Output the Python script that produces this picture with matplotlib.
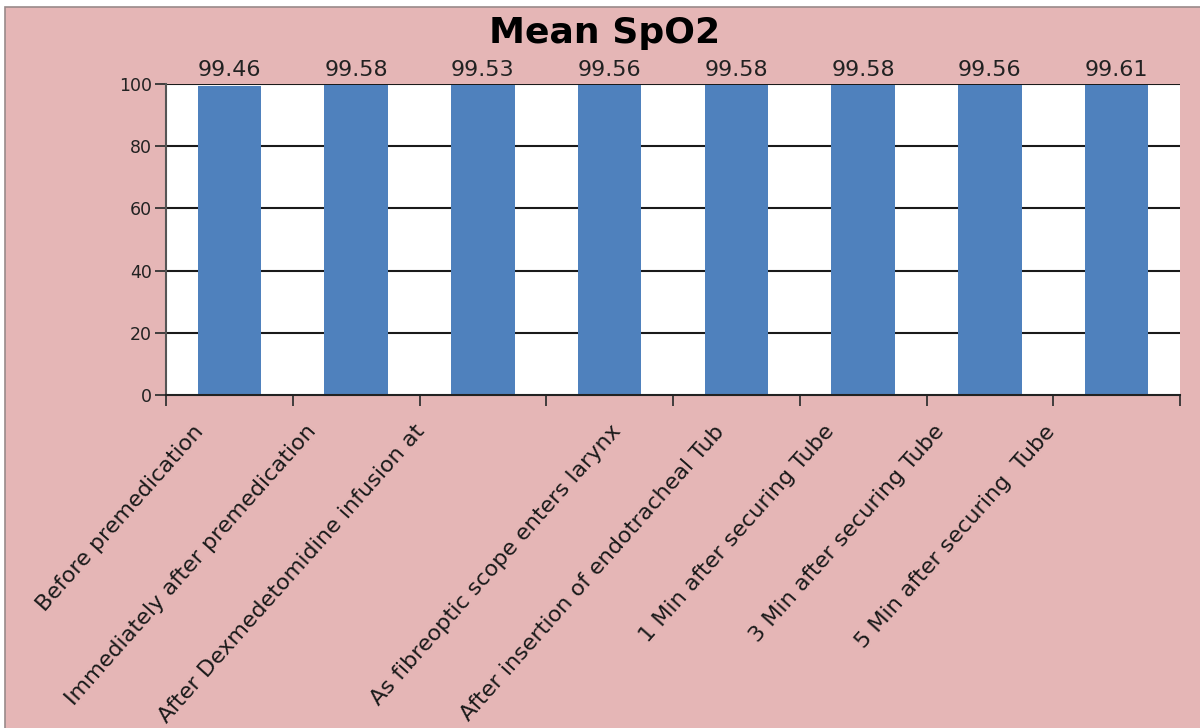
import matplotlib
matplotlib.use("Agg")
import matplotlib.pyplot as plt
import matplotlib.transforms as mtransforms
from matplotlib.patches import Rectangle
import numpy as np

plt.rcParams['font.family'] = ['DejaVu Sans']

# mean SpO2 at each stage
stages = [
    "Before premedication",
    "Immediately after premedication",
    "After Dexmedetomidine infusion at",
    "As fibreoptic scope enters larynx",
    "After insertion of endotracheal Tub",
    "1 Min after securing Tube",
    "3 Min after securing Tube",
    "5 Min after securing  Tube",
]
spo2 = [99.46, 99.58, 99.53, 99.56, 99.58, 99.58, 99.56, 99.61]
yticks = [0, 20, 40, 60, 80, 100]

# horizontal shift (px) of each rotated label end from its category centre
label_shift = [-29, -44, -62, 8, -16, -32, -49, -65]

pink = '#E5B6B6'
blue = '#4F81BD'

fig = plt.figure(figsize=(12, 7.28), dpi=100, facecolor='white')
fig.patches.append(Rectangle((5 / 1200, -0.01), 1, 1.01 - 7 / 728, transform=fig.transFigure,
                             facecolor=pink, edgecolor='#9a8a8a', linewidth=1.2, zorder=-10))

ax = fig.add_axes([166 / 1200, 1 - 395 / 728, (1180 - 166) / 1200, (395 - 84) / 728])
ax.set_facecolor('white')

x = np.arange(len(spo2)) + 0.5
ax.bar(x, spo2, width=0.5, color=blue, zorder=2)

ax.set_xlim(0, len(spo2))
ax.set_ylim(0, 100)
ax.set_yticks(yticks)
ax.set_yticklabels([str(v) for v in yticks], fontsize=12.5, color='#222222')
ax.set_xticks(np.arange(len(spo2) + 1))
ax.set_xticklabels([])
ax.tick_params(axis='both', direction='out', length=8, width=1.3, color='#333333')
ax.tick_params(axis='y', pad=2)

for v in yticks[1:]:
    ax.axhline(v, color='#1a1a1a', linewidth=1.5, zorder=1)

for side in ['top', 'right']:
    ax.spines[side].set_visible(False)
ax.spines['left'].set_color('#555555')
ax.spines['left'].set_linewidth(1.5)
ax.spines['bottom'].set_color('#222222')
ax.spines['bottom'].set_linewidth(1.5)

# value labels above the bars
for xi, v in zip(x, spo2):
    ax.annotate(f"{v:.2f}", (xi, v), xytext=(0, 4), textcoords='offset points',
                ha='center', va='bottom', fontsize=16, color='#222222')

# rotated category labels
for xi, name, dx in zip(x, stages, label_shift):
    off = mtransforms.ScaledTranslation(dx / 100, -33 / 100, fig.dpi_scale_trans)
    ax.text(xi, 0, name, transform=ax.get_xaxis_transform() + off,
            rotation=48.5, rotation_mode='anchor', ha='right', va='center',
            fontsize=16, color='#1a1a1a', clip_on=False)

fig.text(0.504, 1 - 33 / 728, "Mean SpO2", ha='center', va='center',
         fontsize=26, fontweight='bold', color='black')

fig.savefig('out.png', dpi=100, facecolor=fig.get_facecolor())
